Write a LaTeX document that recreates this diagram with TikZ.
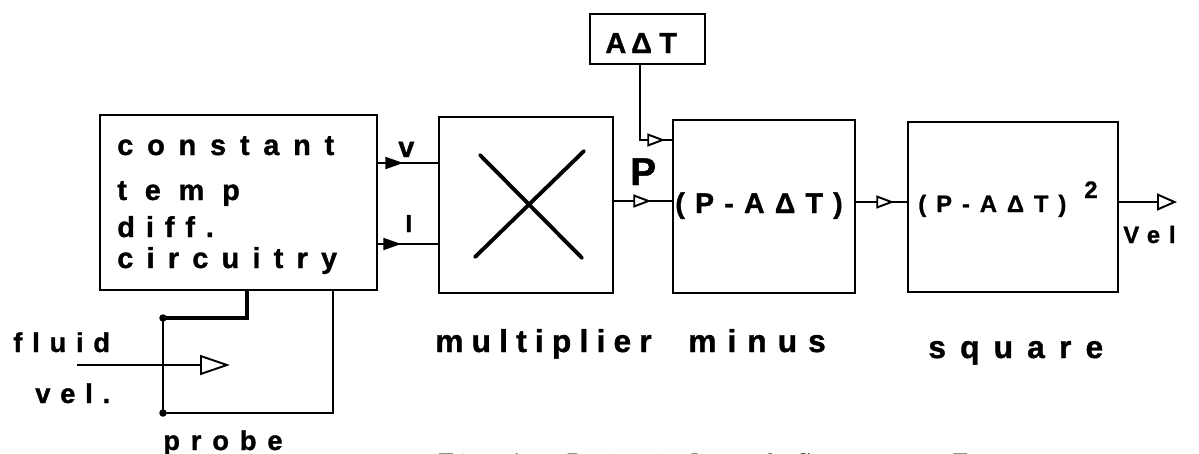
\documentclass[tikz,border=0pt]{standalone}
\usepackage{fontspec}
\setmainfont{Liberation Sans}
\usetikzlibrary{arrows.meta,decorations.markings}
\newcommand\LS[2]{{\fontspec{Liberation Sans Bold}[LetterSpace=#1,FakeBold=1.2]#2}}
\newcommand\bsz[1]{\fontspec{Liberation Sans Bold}[FakeBold=1.2]\fontsize{#1}{#1}\selectfont}
\newfontfamily\capfont{lmmono10-regular.otf}[FakeBold=0.01]
\begin{document}
\begin{tikzpicture}[x=0.02cm,y=-0.02cm,
  blk/.style={draw, line width=1.5pt, inner sep=0pt},
  wire/.style={line width=1.1pt},
  txt/.style={inner sep=0pt, anchor=base west},
  opentip/.style={postaction={decorate}, decoration={markings, mark=at position #1 with {\arrow{Triangle[fill=white,length=0.36cm,width=0.26cm]}}}},
  filltip/.style={postaction={decorate}, decoration={markings, mark=at position #1 with {\arrow{Triangle[length=0.36cm,width=0.24cm]}}}}]
\useasboundingbox (0,0) rectangle (1199,453);
% caption
\node[txt, font=\capfont\fontsize{19}{20}\selectfont] (cap) at (437,474) {Fig.1. Principle of Constant Temperature};
% blocks
\node[blk, minimum width=5.54cm, minimum height=3.5cm] (ctd) at (238.5,202.5) {};
\node[blk, minimum width=3.48cm, minimum height=3.52cm] (mul) at (526,205) {};
\node[blk, minimum width=3.64cm, minimum height=3.46cm] (minus) at (764,206.5) {};
\node[blk, minimum width=4.2cm, minimum height=3.4cm] (sq) at (1013,207) {};
\node[blk, minimum width=2.3cm, minimum height=1.0cm] (adt) at (647.5,39) {};
% multiplier cross
\draw[line width=2.2pt, line cap=round] (480,155) -- (582,258) (584,151) -- (475,257);
% connectors
\coordinate (vy) at (0,163);
\coordinate (iy) at (0,244);
\coordinate (py) at (0,201);
\coordinate (qy) at (0,202);
\coordinate (ax) at (640,140);
\coordinate (vout) at (1177,202);
\draw[wire, filltip=0.5cm] (ctd.east |- vy) -- (mul.west |- vy);
\draw[wire, filltip=0.46cm] (ctd.east |- iy) -- (mul.west |- iy);
\draw[wire, opentip=0.74cm] (mul.east |- py) -- (minus.west |- py);
\draw[wire, opentip=2.0cm] (adt.south -| ax) |- (minus.west |- ax);
\draw[wire, opentip=0.76cm] (minus.east |- qy) -- (sq.west |- qy);
\draw[wire, -{Triangle[fill=white,length=0.4cm,width=0.34cm]}] (sq.east |- vout) -- (vout);
% fluid and probe
\coordinate (fa) at (77,365);
\coordinate (fb) at (230,365);
\draw[wire, -{Triangle[fill=white,length=0.6cm,width=0.4cm]}] (fa) -- (fb);
\coordinate (d1) at (163,318);
\coordinate (d2) at (163,413);
\coordinate (wa) at (247,0);
\coordinate (wb) at (333,0);
\draw[line width=1.8pt] (ctd.south -| wa) |- (d1);
\draw[wire] (d1) -- (d2) -| (ctd.south -| wb);
\fill (d1) circle (0.075cm);
\fill (d2) circle (0.075cm);
% texts in blocks
\node[txt, font=\bsz{16.4}] (t1) at (117,155) {\LS{48}{constant}};
\node[txt, font=\bsz{16.4}] (t2) at (117,200) {\LS{62}{temp}};
\node[txt, font=\bsz{16.4}] (t3) at (117,237) {\LS{38}{diff.}};
\node[txt, font=\bsz{16.4}] (t4) at (117,268) {\LS{46}{circuitry}};
\node[txt, font=\bsz{16.5}] (tadt) at (605,53) {\LS{25}{A\,ΔT}};
\node[txt, font=\bsz{16.2}] (tmin) at (675,213) {\LS{36}{(P-AΔT)}};
\node[txt, font=\bsz{13.5}] (tsq) at (918,212) {\LS{42}{(P-AΔT)}};
\node[txt, font=\bsz{13.5}] (tsq2) at (1084,198) {2};
% labels
\node[txt, font=\bsz{16.4}] (lv) at (398,157) {v};
\node[txt, font=\bsz{14}] (li) at (405,232) {I};
\node[txt, font=\bsz{22}] (lp) at (630,185) {P};
\node[txt, font=\bsz{13.5}] (lvel) at (1123,243) {\LS{38}{Vel}};
\node[txt, font=\bsz{15.5}] (lfl) at (13,352) {\LS{36}{fluid}};
\node[txt, font=\bsz{15.5}] (lve) at (35,403) {\LS{36}{vel.}};
\node[txt, font=\bsz{15.5}] (lpr) at (163,450) {\LS{40}{probe}};
\node[txt, font=\bsz{18}] (lmul) at (435,352) {\LS{26}{multiplier}};
\node[txt, font=\bsz{18}] (lmin) at (688,352) {\LS{35}{minus}};
\node[txt, font=\bsz{18}] (lsq) at (928,358) {\LS{45}{square}};
\end{tikzpicture}
\end{document}
